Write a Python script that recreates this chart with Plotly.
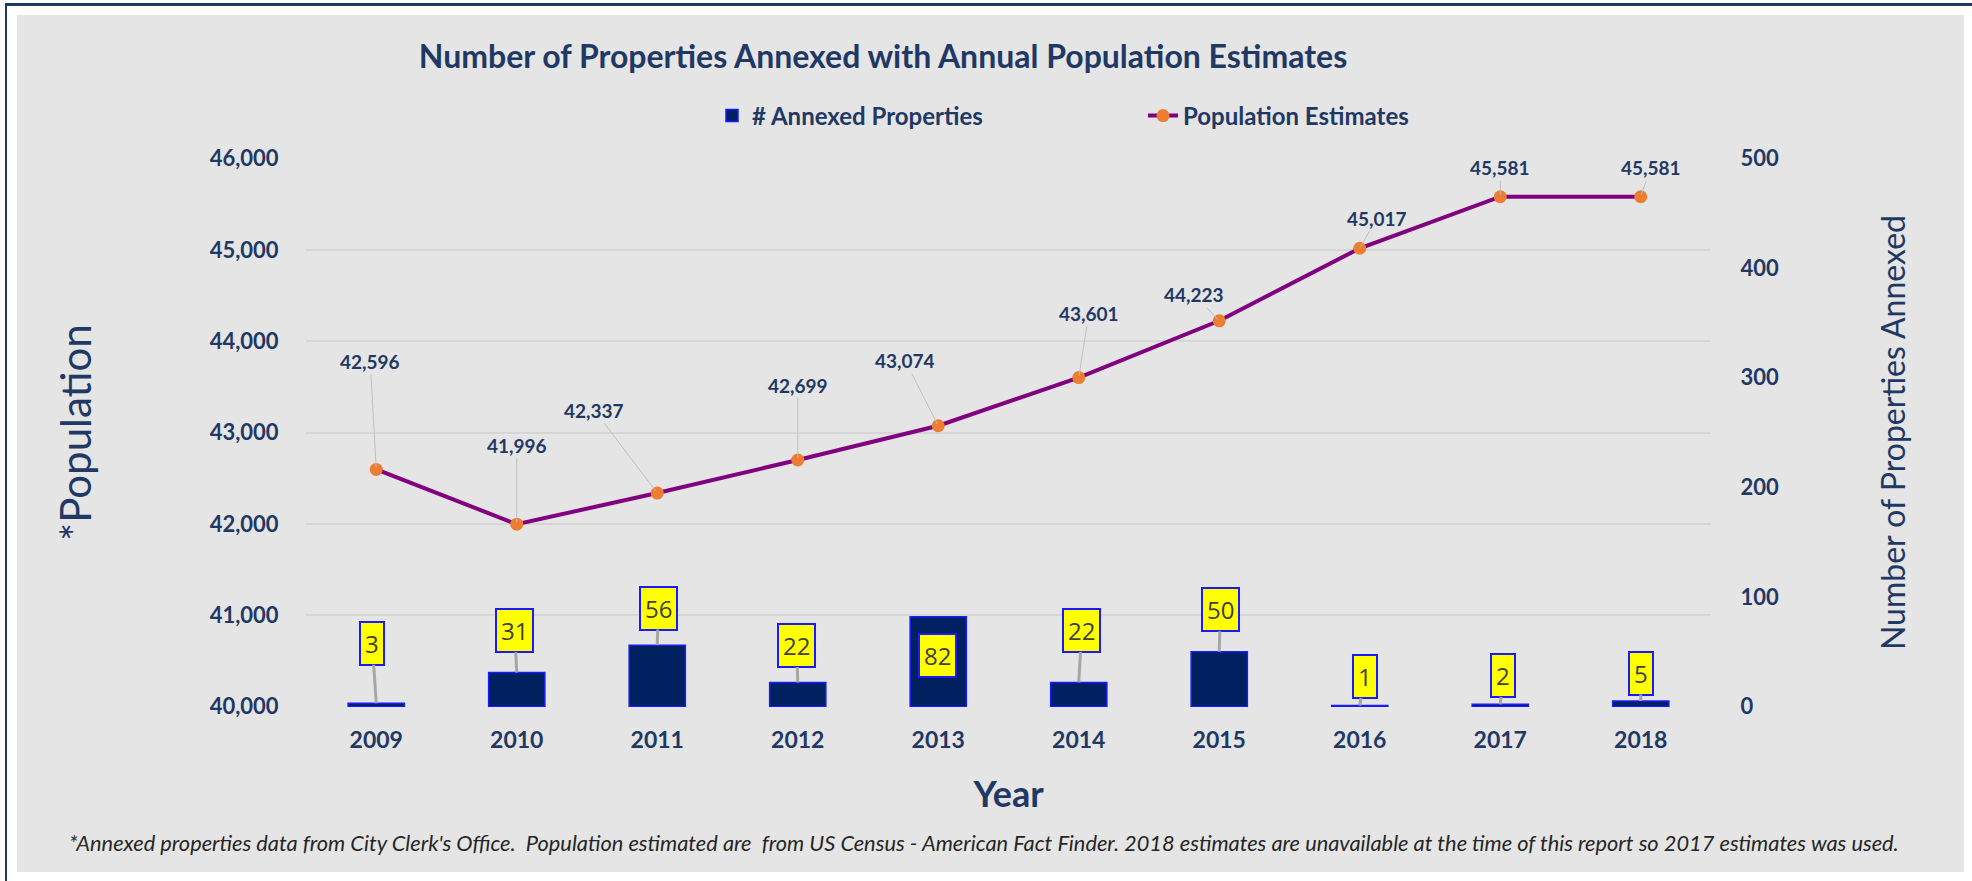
import plotly.graph_objects as go

years = ["2009", "2010", "2011", "2012", "2013", "2014", "2015", "2016", "2017", "2018"]
annexed = [3, 31, 56, 22, 82, 22, 50, 1, 2, 5]
population = [42596, 41996, 42337, 42699, 43074, 43601, 44223, 45017, 45581, 45581]
left_ticks = [40000, 41000, 42000, 43000, 44000, 45000, 46000]
right_ticks = [0, 100, 200, 300, 400, 500]

# label offsets (pixels) — styling only
pop_off = [(-6, -108), (0, -79), (-63, -83), (0, -75), (-33, -65), (10, -64),
           (-25, -26), (17, -30), (0, -29), (10, -29)]
bar_off = [(-4, -60), (-2, -42), (1, -37), (-1, -37), (-1, 39), (3, -52),
           (1, -42), (5, -29), (3, -29), (0, -28)]

W, H = 1972, 881
L, R, T, B = 306, 1711, 158, 707
NAVY = "#1F3864"
FONT = "Lato"

def px(x):
    return (x - L) / (R - L)

def py(y):
    return (B - y) / (B - T)

fig = go.Figure()
fig.add_trace(go.Bar(
    x=years, y=annexed, name="# Annexed Properties", yaxis="y2",
    marker=dict(color="#002060", line=dict(color="#1A1AFF", width=1.5)),
    width=0.4,
))
fig.add_trace(go.Scatter(
    x=years, y=population, name="Population Estimates", yaxis="y",
    mode="lines+markers",
    line=dict(color="#800080", width=4),
    marker=dict(color="#ED7D31", size=13),
))

ann = []
for i, (v, (dx, dy)) in enumerate(zip(population, pop_off)):
    ann.append(dict(x=i, y=v, xref="x", yref="y", text=f"{v:,}",
                    showarrow=True, ax=dx, ay=dy, arrowhead=0, arrowwidth=1,
                    arrowcolor="#BFBFBF", standoff=2,
                    font=dict(family=FONT, size=19, color=NAVY, weight="bold")))
for i, (v, (dx, dy)) in enumerate(zip(annexed, bar_off)):
    ann.append(dict(x=i, y=v, xref="x", yref="y2", text=str(v),
                    showarrow=True, ax=dx, ay=dy, arrowhead=0, arrowwidth=3,
                    arrowcolor="#A6A6A6" if dy < 0 else "rgba(0,0,0,0)",
                    bgcolor="#FFFF00", bordercolor="#1A1AFF", borderwidth=2,
                    borderpad=4,
                    font=dict(family="Open Sans", size=24, color="#404040")))
ann.append(dict(x=px(984), y=py(842), xref="paper", yref="paper", showarrow=False,
                text="*Annexed properties data from City Clerk's Office.  Population estimated are  from US Census - American Fact Finder. 2018 estimates are unavailable at the time of this report so 2017 estimates was used.",
                font=dict(family=FONT, size=21.8, color="#262626", style="italic"),
                xanchor="center", yanchor="middle"))

shapes = [
    dict(type="rect", xref="paper", yref="paper", layer="below",
         x0=px(17), x1=px(1964), y0=py(15), y1=py(872),
         fillcolor="#E5E5E5", line=dict(width=0)),
    dict(type="line", xref="paper", yref="paper",
         x0=px(5), x1=px(1972), y0=py(4.5), y1=py(4.5),
         line=dict(color="#1F3864", width=3)),
    dict(type="line", xref="paper", yref="paper",
         x0=px(6), x1=px(6), y0=py(3), y1=py(881),
         line=dict(color="#1F3864", width=2)),
]

fig.update_layout(
    width=W, height=H, autosize=False,
    margin=dict(l=L, r=W - R, t=T, b=H - B, pad=0),
    paper_bgcolor="#FFFFFF", plot_bgcolor="rgba(0,0,0,0)",
    font=dict(family=FONT, color=NAVY),
    title=dict(text="<b>Number of Properties Annexed with Annual Population Estimates</b>",
               x=883 / W, xanchor="center",
               y=1 - 57 / H, yanchor="middle",
               font=dict(family=FONT, size=32, color=NAVY)),
    legend=dict(orientation="h", x=px(1143), y=py(116), xanchor="center",
                yanchor="middle", bgcolor="rgba(0,0,0,0)",
                font=dict(family=FONT, size=24, color=NAVY, weight="bold"),
                entrywidth=386, entrywidthmode="pixels"),
    bargap=0.6,
    xaxis=dict(type="category", range=[-0.5, 9.5], showgrid=False, showline=False,
               zeroline=False,
               ticks="outside", ticklen=12, tickcolor="rgba(0,0,0,0)",
               tickfont=dict(family=FONT, size=23, color=NAVY, weight="bold"),
               title=dict(text="<b>Year</b>", standoff=30,
                          font=dict(family=FONT, size=36, color=NAVY))),
    yaxis=dict(range=[39995, 46005], tickvals=left_ticks, tickformat=",",
               showgrid=True, gridcolor="#D6D6D6", gridwidth=1.5,
               zeroline=False, showline=False,
               ticks="outside", ticklen=22, tickcolor="rgba(0,0,0,0)",
               tickfont=dict(family=FONT, size=22, color=NAVY, weight="bold"),
               title=dict(text="*Population", standoff=104,
                          font=dict(family=FONT, size=42, color=NAVY))),
    yaxis2=dict(range=[-0.4167, 500.4167], tickvals=right_ticks, overlaying="y", side="right",
                showgrid=False, zeroline=False, showline=False,
                ticks="outside", ticklen=24, tickcolor="rgba(0,0,0,0)",
                tickfont=dict(family=FONT, size=22, color=NAVY, weight="bold"),
                title=dict(text="Number of Properties Annexed", standoff=104,
                           font=dict(family=FONT, size=32, color=NAVY))),
    annotations=ann,
    shapes=shapes,
)

fig.write_html("out.html", config={"displayModeBar": False},
               post_script="document.body.style.margin='0';document.body.style.overflow='hidden';")
